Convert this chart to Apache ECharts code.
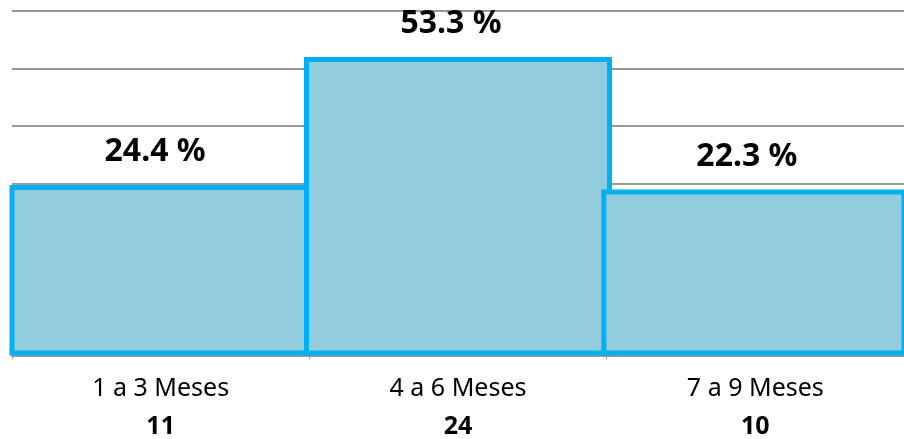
<!DOCTYPE html>
<html>
<head>
<meta charset="utf-8">
<script src="https://cdn.jsdelivr.net/npm/echarts@6/dist/echarts.min.js"></script>
<style>
  html, body { margin: 0; padding: 0; background: #fff; }
  #chart { width: 904px; height: 439px; }
</style>
</head>
<body>
<div id="chart"></div>
<script>
// categorias y valores
const categories = ['1 a 3 Meses', '4 a 6 Meses', '7 a 9 Meses'];
const counts = [11, 24, 10];
const percents = [24.4, 53.3, 22.3];
// altura de cada barra en unidades de la cuadricula
const barHeights = [2.97, 5.2, 2.89];
const gridTicks = [0, 1, 2, 3, 4, 5, 6];

const myChart = echarts.init(document.getElementById('chart'));

const option = {
  animation: false,
  grid: { left: 12, top: 11, width: 900, height: 347 },
  xAxis: {
    type: 'category',
    data: categories.map((c, i) => c + '\n' + counts[i]),
    axisLine: { lineStyle: { color: '#999', width: 2 } },
    axisTick: { show: true, length: 4, lineStyle: { color: '#999' } },
    axisLabel: {
      margin: 14,
      formatter: function (v) {
        const parts = v.split('\n');
        return '{a|' + parts[0] + '}\n{b|' + parts[1] + '}';
      },
      rich: {
        a: { fontFamily: 'Noto Sans', fontSize: 25, color: '#000', lineHeight: 38 },
        b: { fontFamily: 'Noto Sans', fontSize: 25, fontWeight: 'bold', color: '#000', lineHeight: 38 }
      }
    }
  },
  yAxis: {
    type: 'value',
    min: gridTicks[0],
    max: gridTicks[gridTicks.length - 1],
    interval: 1,
    axisLabel: { show: false },
    axisLine: { show: false },
    axisTick: { show: false },
    splitLine: { lineStyle: { color: '#999', width: 2 } }
  },
  series: [
    {
      type: 'bar',
      barWidth: 308,
      data: barHeights,
      itemStyle: {
        color: '#93CDDD',
        borderColor: '#00B0F0',
        borderWidth: 5
      },
      label: {
        show: true,
        position: 'top',
        distance: 17,
        offset: [-7, 0],
        fontFamily: 'Noto Sans',
        fontSize: 32,
        fontWeight: 'bold',
        color: '#000',
        formatter: function (p) {
          return percents[p.dataIndex].toFixed(1) + ' %';
        }
      }
    }
  ]
};

myChart.setOption(option);
</script>
</body>
</html>
